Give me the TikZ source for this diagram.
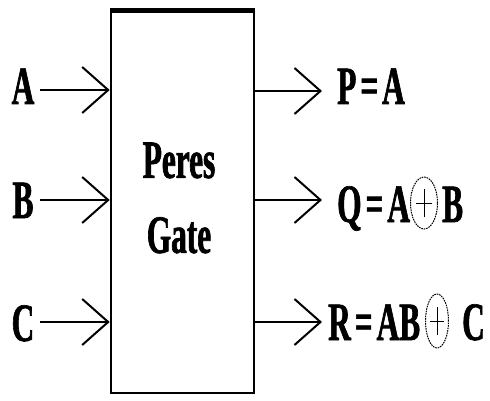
\documentclass[tikz,border=0pt]{standalone}
\usepackage{fontspec}
\setmainfont{Liberation Serif}[FakeStretch=0.58, BoldFeatures={FakeBold=1.2}]
\usetikzlibrary{arrows.meta,shapes.geometric}
\tikzset{
  lbl/.style={inner sep=0pt, font=\fontsize{54}{75}\selectfont\bfseries},
  wire/.style={line width=1.6pt, -{Straight Barb[length=26pt,width=46pt,line width=2pt]}},
  xorc/.style={ellipse, draw, dash pattern=on 1.6pt off 0.9pt, line width=1pt, inner sep=0pt},
  plusl/.style={line width=0.8pt},
}
\newcommand\eqs{\hspace{4pt}=\hspace{4pt}}
\begin{document}
\begin{tikzpicture}[x=1pt,y=-1pt]
\useasboundingbox (0,0) rectangle (490,401);
% gate box
\node[draw, line width=2.6pt, minimum width=143pt, minimum height=381pt, inner sep=0pt] (gate) at (182.5,202.5) {};
\draw[line width=5pt] (gate.north west) -- (gate.north east);
\node[lbl, align=center] (glabel) at (179,198) {Peres\\Gate};
% inputs
\node[lbl, anchor=base] (A) at (23,104) {A};
\node[lbl, anchor=base] (B) at (23,218) {B};
\node[lbl, anchor=base] (C) at (23,341) {C};
\coordinate (a0) at (40,90);
\coordinate (b0) at (40,200);
\coordinate (c0) at (40,322);
\draw[wire] (a0) -- (a0 -| gate.west);
\draw[wire] (b0) -- (b0 -| gate.west);
\draw[wire] (c0) -- (c0 -| gate.west);
% outputs
\coordinate (p1) at (322,91);
\coordinate (q1) at (322,200);
\coordinate (r1) at (322,322);
\draw[wire] (gate.east |- p1) -- (p1);
\draw[wire] (gate.east |- q1) -- (q1);
\draw[wire] (gate.east |- r1) -- (r1);
\node[lbl, anchor=base west] (P) at (337,104) {P\eqs A};
\node[lbl, anchor=base west] (Q) at (337,222) {Q\eqs A};
\node[xorc, minimum width=27pt, minimum height=52pt] (x1) at (424,203) {};
\draw[plusl] ([yshift=14pt]x1.center) -- ([yshift=-14pt]x1.center);
\draw[plusl] ([xshift=-8pt]x1.center) -- ([xshift=8pt]x1.center);
\node[lbl, anchor=base west] (QB) at (442,222) {B};
\node[lbl, anchor=base west] (R) at (328,340) {R\eqs AB};
\node[xorc, minimum width=23pt, minimum height=54pt] (x2) at (437,321) {};
\draw[plusl] ([yshift=14pt]x2.center) -- ([yshift=-14pt]x2.center);
\draw[plusl] ([xshift=-7pt]x2.center) -- ([xshift=7pt]x2.center);
\node[lbl, anchor=base west] (RC) at (462,340) {C};
\end{tikzpicture}
\end{document}
